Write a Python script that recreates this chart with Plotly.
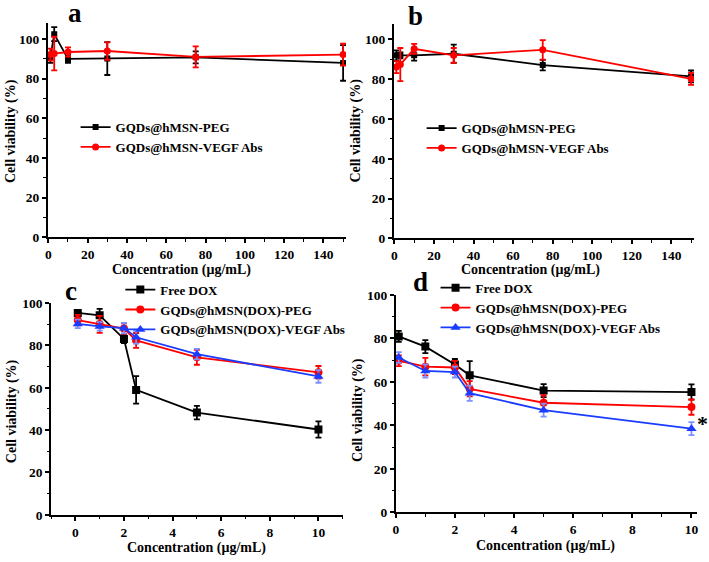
import plotly.graph_objects as go

W, H = 709, 562
FONT = "Liberation Serif"

# ---------------- data ----------------
x_ab = [1, 3, 10, 30, 75, 150]
peg_a = [90.5, 102.5, 90, 90.2, 90.8, 88]
peg_a_err = [2.5, 3.5, 2, 8.3, 3, 9]
vegf_a = [92.2, 92.7, 93.5, 94, 91, 92.2]
vegf_a_err = [3, 8.5, 2.3, 4.4, 5.3, 5.5]

peg_b = [92, 92, 92, 92.8, 87.1, 81.4]
peg_b_err = [2.5, 1.5, 2.6, 4.6, 2.6, 3]
vegf_b = [86.1, 87.4, 95.3, 92, 94.8, 80.2]
vegf_b_err = [3, 8.3, 2.5, 3.7, 4.9, 3]

x_cd = [0.1, 1, 2, 2.5, 5, 10]
dox_c = [95.4, 94.3, 83.1, 59, 48.3, 40.3]
dox_c_err = [1, 3, 2, 6.5, 3.2, 3.8]
peg_c = [92, 90, 88, 82.4, 74.4, 67.3]
peg_c_err = [2.5, 4, 2.5, 3.5, 3.5, 3]
vegf_c = [90.2, 89, 88.2, 83.9, 75.9, 65.4]
vegf_c_err = [2, 2, 2.5, 3, 2.5, 3]

dox_d = [80.9, 76.2, 68, 63, 56, 55.3]
dox_d_err = [2.5, 3, 2.5, 6.5, 3, 3.5]
peg_d = [69.7, 67, 66.6, 56.8, 50.4, 48.4]
peg_d_err = [2.5, 4, 3, 3.5, 3.5, 3.5]
vegf_d = [71.2, 65, 64.5, 54.8, 47, 38.5]
vegf_d_err = [2.5, 3, 2.5, 3.5, 3, 3]

names_ab = ["GQDs@hMSN-PEG", "GQDs@hMSN-VEGF Abs"]
names_cd = ["Free DOX", "GQDs@hMSN(DOX)-PEG", "GQDs@hMSN(DOX)-VEGF Abs"]

BLACK = "#000000"
RED = "#ff0000"
BLUE = "#1a3cff"
BLUE_ERR = "#7d92ff"


def fx(px):
    return px / W


def fy(py):
    return 1 - py / H


fig = go.Figure()


def add(x, y, err, name, color, symbol, size, xa, ya, legend, errcolor=None):
    fig.add_trace(go.Scatter(
        x=x, y=y, name=name, mode="lines+markers",
        line=dict(color=color, width=1.8),
        marker=dict(color=color, symbol=symbol, size=size),
        error_y=dict(type="data", array=err, color=errcolor or color,
                     thickness=1.8, width=3),
        xaxis=xa, yaxis=ya, legend=legend,
    ))


add(x_ab, peg_a, peg_a_err, names_ab[0], BLACK, "square", 6, "x", "y", "legend")
add(x_ab, vegf_a, vegf_a_err, names_ab[1], RED, "circle", 7, "x", "y", "legend")
add(x_ab, peg_b, peg_b_err, names_ab[0], BLACK, "square", 6, "x2", "y2", "legend2")
add(x_ab, vegf_b, vegf_b_err, names_ab[1], RED, "circle", 7, "x2", "y2", "legend2")
add(x_cd, dox_c, dox_c_err, names_cd[0], BLACK, "square", 8, "x3", "y3", "legend3")
add(x_cd, peg_c, peg_c_err, names_cd[1], RED, "circle", 8, "x3", "y3", "legend3")
add(x_cd, vegf_c, vegf_c_err, names_cd[2], BLUE, "triangle-up", 9, "x3", "y3", "legend3", BLUE_ERR)
add(x_cd, dox_d, dox_d_err, names_cd[0], BLACK, "square", 8, "x4", "y4", "legend4")
add(x_cd, peg_d, peg_d_err, names_cd[1], RED, "circle", 8, "x4", "y4", "legend4")
add(x_cd, vegf_d, vegf_d_err, names_cd[2], BLUE, "triangle-up", 9, "x4", "y4", "legend4", BLUE_ERR)

tickfont = dict(family=FONT, size=13.5, color="black", weight=700)


def xaxis(dom, rng, dtick, anchor):
    return dict(domain=dom, range=rng, anchor=anchor, dtick=dtick, tick0=0,
                showline=True, linecolor="black", linewidth=1.5,
                ticks="outside", ticklen=4, tickwidth=1.5, tickcolor="black",
                showgrid=False, zeroline=False, tickfont=tickfont,
                minor=dict(ticks="outside", ticklen=2.5, tickwidth=1.2,
                           tickcolor="black", dtick=dtick / 2, showgrid=False))


def yaxis(dom, rng, anchor):
    return dict(domain=dom, range=rng, anchor=anchor, dtick=20, tick0=0,
                showline=True, linecolor="black", linewidth=1.5,
                ticks="outside", ticklen=4, tickwidth=1.5, tickcolor="black",
                showgrid=False, zeroline=False, tickfont=tickfont,
                minor=dict(ticks="outside", ticklen=2.5, tickwidth=1.2,
                           tickcolor="black", dtick=10, showgrid=False))


layout = dict(
    width=W, height=H, margin=dict(l=0, r=0, t=0, b=0),
    paper_bgcolor="white", plot_bgcolor="white",
    xaxis=xaxis([fx(45), fx(345)], [-0.3, 151.5], 20, "y"),
    yaxis=yaxis([fy(236.7), fy(16.7)], [0, 108], "x"),
    xaxis2=xaxis([fx(393), fx(695)], [-0.3, 151.5], 20, "y2"),
    yaxis2=yaxis([fy(237.7), fy(17)], [0, 108], "x2"),
    xaxis3=xaxis([fx(48.3), fx(341.7)], [-1, 11], 2, "y3"),
    yaxis3=yaxis([fy(521.7), fy(304.3)], [0, 100], "x3"),
    xaxis4=xaxis([fx(395), fx(698.3)], [0, 10.2], 2, "y4"),
    yaxis4=yaxis([fy(519.3), fy(295.7)], [0, 100], "x4"),
)

legfont = dict(family=FONT, size=13, color="black", weight=700)


def leg(px, py):
    return dict(x=fx(px), y=fy(py), xanchor="left", yanchor="top",
                bgcolor="rgba(0,0,0,0)", font=legfont, itemwidth=30,
                tracegroupgap=0)


layout["legend"] = leg(73, 108)
layout["legend2"] = leg(421, 109)
layout["legend3"] = leg(118, 275)
layout["legend4"] = leg(435, 273)

fig.update_layout(**layout)

titlefont = dict(family=FONT, size=14, color="black", weight=700)
ann = []
for (px, py) in [(7.5, 127), (355, 127), (9.3, 415), (357, 414)]:
    ann.append(dict(x=fx(px), y=fy(py), xref="paper", yref="paper",
                    text="Cell viability (%)", textangle=-90, showarrow=False,
                    font=titlefont, xanchor="center", yanchor="middle"))
for (px, py) in [(180, 270), (530, 270), (195, 555.5), (546, 553.5)]:
    ann.append(dict(x=fx(px), y=fy(py), xref="paper", yref="paper",
                    text="Concentration (μg/mL)", showarrow=False,
                    font=titlefont, xanchor="center", yanchor="middle"))
letterfont = dict(family=FONT, size=27, color="black", weight=700)
for (t, px, py) in [("a", 72, 6), ("b", 415, 9), ("c", 68, 292), ("d", 420, 283)]:
    ann.append(dict(x=fx(px), y=fy(py), xref="paper", yref="paper",
                    text=t, showarrow=False, font=letterfont,
                    xanchor="center", yanchor="middle"))
ann.append(dict(x=fx(703), y=fy(428), xref="paper", yref="paper", text="*",
                showarrow=False, font=dict(family=FONT, size=22, color="black",
                                           weight=700),
                xanchor="center", yanchor="middle"))
fig.update_layout(annotations=ann)

fig.write_html("out.html")
